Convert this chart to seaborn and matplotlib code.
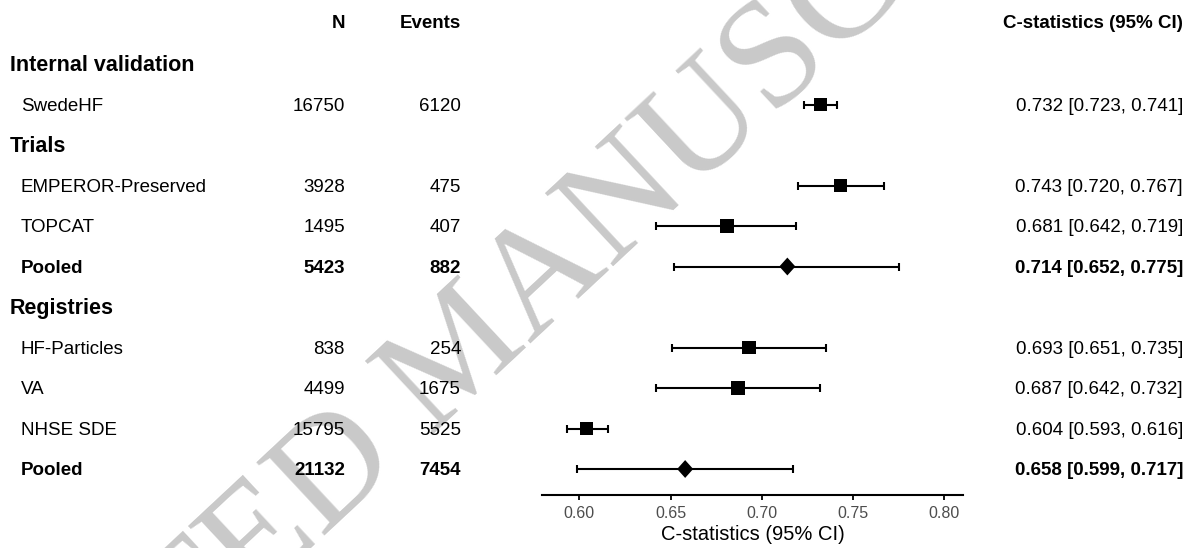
import numpy as np
import pandas as pd
import matplotlib
matplotlib.use("Agg")
import matplotlib.pyplot as plt
from matplotlib import transforms
import seaborn as sns

# ---------------- data ----------------
group_names = ["Internal validation", "Trials", "Registries"]
group_rows = [0, 2, 6]

study_labels = ["SwedeHF", "EMPEROR-Preserved", "TOPCAT", "Pooled",
                "HF-Particles", "VA", "NHSE SDE", "Pooled"]
study_rows = [1, 3, 4, 5, 7, 8, 9, 10]
study_kind = ["study", "study", "study", "pooled",
              "study", "study", "study", "pooled"]
n_values = [16750, 3928, 1495, 5423, 838, 4499, 15795, 21132]
event_values = [6120, 475, 407, 882, 254, 1675, 5525, 7454]
cstat = [0.732, 0.743, 0.681, 0.714, 0.693, 0.687, 0.604, 0.658]
ci_low = [0.723, 0.720, 0.642, 0.652, 0.651, 0.642, 0.593, 0.599]
ci_high = [0.741, 0.767, 0.719, 0.775, 0.735, 0.732, 0.616, 0.717]

x_ticks = [0.60, 0.65, 0.70, 0.75, 0.80]
x_label = "C-statistics (95% CI)"
col_headers = ["N", "Events", "C-statistics (95% CI)"]

df = pd.DataFrame({
    "label": study_labels, "row": study_rows, "kind": study_kind,
    "n": n_values, "events": event_values,
    "est": cstat, "lo": ci_low, "hi": ci_high,
})

# ---------------- style ----------------
sns.set_theme(style="white")
plt.rcParams["font.family"] = ["Liberation Sans", "DejaVu Sans"]
plt.rcParams["text.color"] = "black"
plt.rcParams["axes.labelcolor"] = "black"

W, H = 1188, 548
fig = plt.figure(figsize=(W / 100, H / 100), dpi=100)

# axes geometry (pixel based)
ax_left, ax_right = 541.7, 963.3
ax_bottom_px = 495
ax = fig.add_axes([ax_left / W, 1 - ax_bottom_px / H,
                   (ax_right - ax_left) / W, ax_bottom_px / H])
ax.patch.set_alpha(0)

row0_px, row_step = 64, 40.5
ax.set_ylim((ax_bottom_px - row0_px) / row_step, -row0_px / row_step)
ax.set_xlim(0.5794, 0.8104)

# watermark
fig.text(0.39, 0.35, "ACCEPTED MANUSCRIPT", rotation=43, fontsize=110,
         family=["Liberation Serif", "DejaVu Serif"], color="#c9c9c9",
         ha="center", va="center", rotation_mode="anchor", zorder=-5)

# confidence intervals
ax.errorbar(df["est"], df["row"],
            xerr=[df["est"] - df["lo"], df["hi"] - df["est"]],
            fmt="none", ecolor="black", elinewidth=1.5,
            capsize=3.2, capthick=1.5, zorder=3)

diamond = [(0, 1), (0.9, 0), (0, -1), (-0.9, 0), (0, 1)]
sns.scatterplot(data=df, x="est", y="row", style="kind", size="kind",
                markers={"study": "s", "pooled": diamond},
                sizes={"study": 92, "pooled": 165},
                color="black", edgecolor="black", linewidth=0,
                legend=False, ax=ax, zorder=4)

# axis styling
for s in ["left", "top", "right"]:
    ax.spines[s].set_visible(False)
ax.spines["bottom"].set_linewidth(1.5)
ax.spines["bottom"].set_color("black")
ax.set_yticks([])
ax.set_xticks(x_ticks)
ax.set_xticklabels([f"{t:.2f}" for t in x_ticks])
ax.tick_params(axis="x", which="major", bottom=True, length=3.8, width=1.3,
               color="black", labelsize=11.5, labelcolor="#4d4d4d", pad=4)
ax.set_xlabel(x_label, fontsize=14.5, color="black", labelpad=3)
ax.set_ylabel("")

# ---------------- table text ----------------
trans = transforms.blended_transform_factory(fig.transFigure, ax.transData)
body_fs, group_fs = 13.5, 15.5
off = 0.155  # baseline offset (rows) so glyphs are centred on the row

x_group, x_label_col = 10 / W, 21 / W
x_n, x_ev, x_ci = 345 / W, 461 / W, 1183 / W

header_row = (22 - row0_px) / row_step
for txt, xx in zip(col_headers, [x_n, x_ev, x_ci]):
    ax.text(xx, header_row + off, txt, transform=trans, ha="right",
            va="baseline", fontsize=body_fs, fontweight="bold",
            color="black", clip_on=False)

for g, r in zip(group_names, group_rows):
    ax.text(x_group, r + 0.178, g, transform=trans, ha="left",
            va="baseline", fontsize=group_fs, fontweight="bold",
            color="black", clip_on=False)

for _, rec in df.iterrows():
    w = "bold" if rec["kind"] == "pooled" else "normal"
    y = rec["row"] + off
    ax.text(x_label_col, y, rec["label"], transform=trans, ha="left",
            va="baseline", fontsize=body_fs, fontweight=w, color="black",
            clip_on=False)
    ax.text(x_n, y, f"{rec['n']}", transform=trans, ha="right",
            va="baseline", fontsize=body_fs, fontweight=w, color="black",
            clip_on=False)
    ax.text(x_ev, y, f"{rec['events']}", transform=trans, ha="right",
            va="baseline", fontsize=body_fs, fontweight=w, color="black",
            clip_on=False)
    ax.text(x_ci, y, f"{rec['est']:.3f} [{rec['lo']:.3f}, {rec['hi']:.3f}]",
            transform=trans, ha="right", va="baseline", fontsize=body_fs,
            fontweight=w, color="black", clip_on=False)

fig.savefig("out.png", dpi=100)
